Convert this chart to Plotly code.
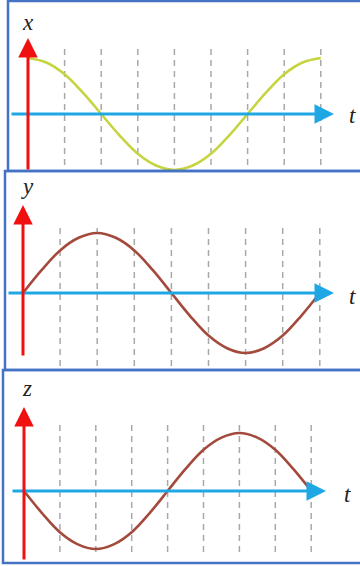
import plotly.graph_objects as go

# time grid (dashed guide lines at t = 1..8), curve sampled every half step
t_vals = [0, 0.5, 1, 1.5, 2, 2.5, 3, 3.5, 4, 4.5, 5, 5.5, 6, 6.5, 7, 7.5, 8]
guide_t = [1, 2, 3, 4, 5, 6, 7, 8]

# curve values (amplitude units)
x_vals = [1.0, 0.92, 0.71, 0.38, 0.0, -0.38, -0.71, -0.92, -1.0,
          -0.92, -0.71, -0.38, 0.0, 0.38, 0.71, 0.92, 1.0]
y_vals = [0.0, 0.38, 0.71, 0.92, 1.0, 0.92, 0.71, 0.38, 0.0,
          -0.38, -0.71, -0.92, -1.0, -0.92, -0.71, -0.38, 0.0]
z_vals = [0.0, -0.38, -0.71, -0.92, -1.0, -0.92, -0.71, -0.38, 0.0,
          0.38, 0.71, 0.92, 1.0, 0.92, 0.71, 0.38, 0.0]

labels = ["x", "y", "z"]
curves = [x_vals, y_vals, z_vals]
curve_colors = ["#c6d43f", "#a34a3c", "#a34a3c"]

W, H = 360, 566
BORDER = "#4472c4"
AXIS_BLUE = "#1ea7e4"
AXIS_RED = "#f01010"
GUIDE = "#a8a8a8"
FONT = "Liberation Serif"

# pixel layout of each panel:
# box (left, top, bottom), origin x, t-unit px, zero y, amplitude px,
# guide top px, red axis top/bottom px, blue axis left/right px, label pos
panels = [
    dict(left=8, top=1, bottom=171, ox=28, unit=36.6, oy=114, amp=56,
         guide_top=49, guide_bot=171, red_top=38, red_bot=171,
         blue_l=10, blue_r=334, lab=(28, 22), tlab=(352, 115)),
    dict(left=5, top=171, bottom=370, ox=23, unit=37.1, oy=293, amp=60,
         guide_top=228, guide_bot=367, red_top=205, red_bot=357,
         blue_l=7, blue_r=334, lab=(27, 186), tlab=(352, 296)),
    dict(left=3, top=370, bottom=563, ox=24, unit=35.9, oy=491, amp=58,
         guide_top=425, guide_bot=553, red_top=407, red_bot=561,
         blue_l=11, blue_r=326, lab=(27, 388), tlab=(347, 494)),
]

fig = go.Figure()
layout = dict(
    width=W, height=H, margin=dict(l=0, r=0, t=0, b=0),
    paper_bgcolor="white", plot_bgcolor="rgba(0,0,0,0)", showlegend=False,
)
shapes = []
annotations = []

for i, (p, vals, color, lab) in enumerate(zip(panels, curves, curve_colors, labels)):
    n = "" if i == 0 else str(i + 1)
    xr, yr = "x" + n, "y" + n

    def dx(px, p=p):
        return (px - p["ox"]) / p["unit"]

    def dy(py, p=p):
        return (p["oy"] - py) / p["amp"]

    layout["xaxis" + n] = dict(
        domain=[0, 1], range=[dx(0), dx(W)], anchor=yr,
        visible=False, fixedrange=True,
    )
    layout["yaxis" + n] = dict(
        domain=[(H - p["bottom"]) / H, (H - p["top"]) / H],
        range=[dy(p["bottom"]), dy(p["top"])], anchor=xr,
        visible=False, fixedrange=True,
    )

    # dashed guide lines
    gx, gy = [], []
    for g in guide_t:
        gx += [g, g, None]
        gy += [dy(p["guide_top"]), dy(p["guide_bot"]), None]
    fig.add_trace(go.Scatter(
        x=gx, y=gy, xaxis=xr, yaxis=yr, mode="lines",
        line=dict(color=GUIDE, width=1.5, dash="6px,5px"), hoverinfo="skip",
    ))

    # horizontal t axis with arrow
    annotations.append(dict(
        x=dx(p["blue_r"]), y=0, ax=dx(p["blue_l"]), ay=0,
        xref=xr, yref=yr, axref=xr, ayref=yr, text="",
        showarrow=True, arrowhead=2, arrowsize=1.3, arrowwidth=3,
        arrowcolor=AXIS_BLUE,
    ))

    # curve
    fig.add_trace(go.Scatter(
        x=t_vals, y=vals, xaxis=xr, yaxis=yr, mode="lines",
        line=dict(color=color, width=2.6, shape="spline", smoothing=1.0),
        hoverinfo="skip",
    ))

    # vertical axis with arrow
    annotations.append(dict(
        x=0, y=dy(p["red_top"]), ax=0, ay=dy(p["red_bot"]),
        xref=xr, yref=yr, axref=xr, ayref=yr, text="",
        showarrow=True, arrowhead=2, arrowsize=1.3, arrowwidth=3,
        arrowcolor=AXIS_RED,
    ))

    # axis labels
    annotations.append(dict(
        x=dx(p["lab"][0]), y=dy(p["lab"][1]), xref=xr, yref=yr,
        text="<i>%s</i>" % lab, showarrow=False,
        font=dict(family=FONT, size=23, color="#222222"),
    ))
    annotations.append(dict(
        x=dx(p["tlab"][0]), y=dy(p["tlab"][1]), xref=xr, yref=yr,
        text="<i>t</i>", showarrow=False,
        font=dict(family=FONT, size=23, color="#222222"),
    ))

    # panel border
    shapes.append(dict(
        type="rect", xref="paper", yref="paper",
        x0=p["left"] / W, x1=1.05,
        y0=(H - p["bottom"]) / H, y1=(H - p["top"]) / H,
        line=dict(color=BORDER, width=2.5), fillcolor="rgba(0,0,0,0)",
        layer="above",
    ))

layout["shapes"] = shapes
layout["annotations"] = annotations
fig.update_layout(**layout)

# drop the page margin so the figure sits at the window's corner
fig.write_html(
    "out.html",
    config={"displayModeBar": False},
    post_script="document.body.style.margin='0';"
    "document.body.style.overflow='hidden';",
)
